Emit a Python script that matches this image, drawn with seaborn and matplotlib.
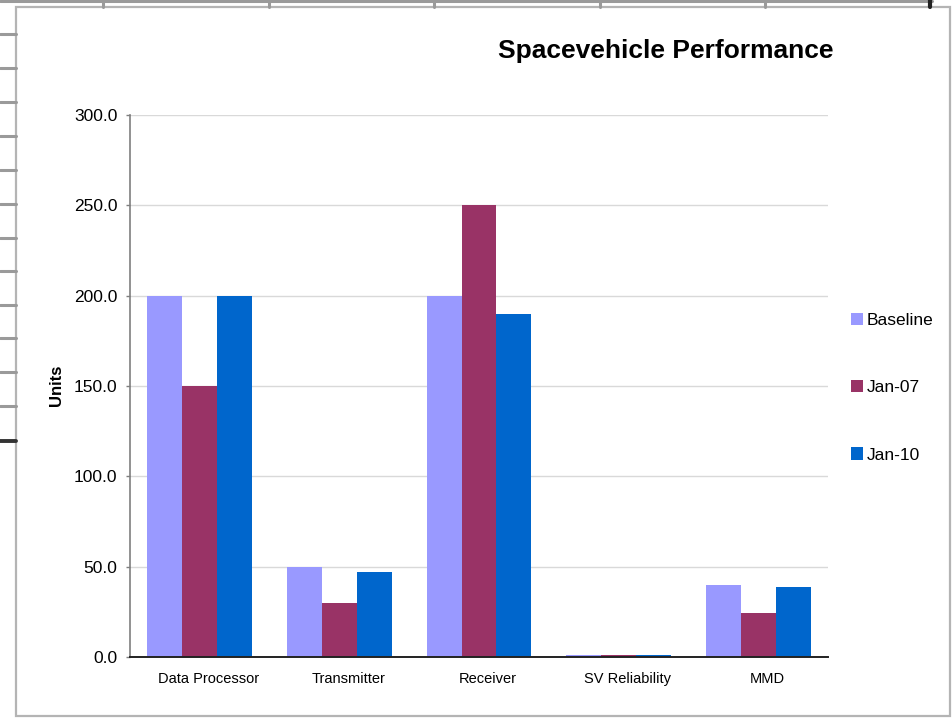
import matplotlib
matplotlib.use("Agg")
import matplotlib.pyplot as plt
from matplotlib.lines import Line2D
from matplotlib.patches import Rectangle, Patch
from matplotlib.ticker import FormatStrFormatter
from matplotlib.transforms import ScaledTranslation
import seaborn as sns
import pandas as pd

# Chart data
categories = ["Data Processor", "Transmitter", "Receiver", "SV Reliability", "MMD"]
series_names = ["Baseline", "Jan-07", "Jan-10"]
baseline = [200.0, 50.0, 200.0, 1.0, 40.0]
jan07 = [150.0, 30.0, 250.0, 1.0, 24.5]
jan10 = [200.0, 47.0, 190.0, 1.0, 39.0]
y_ticks = [0, 50, 100, 150, 200, 250, 300]
colors = ["#9999FF", "#993366", "#0066CC"]

df = pd.DataFrame({
    "category": categories * 3,
    "series": [s for s in series_names for _ in categories],
    "value": baseline + jan07 + jan10,
})

sns.set_style("white")
plt.rcParams["font.family"] = ["Liberation Sans", "DejaVu Sans"]
plt.rcParams["text.color"] = "black"
plt.rcParams["axes.labelcolor"] = "black"

W, H = 952, 720
fig = plt.figure(figsize=(W / 100, H / 100), dpi=100)
fig.patch.set_facecolor("white")


def fx(px):
    return px / W


def fy(py):
    return 1 - py / H


# Worksheet cells peeking out behind the chart box
fig.add_artist(Line2D([0, fx(932)], [fy(0.8), fy(0.8)], color="#9a9a9a", lw=2.2))
for xc in [103, 269, 434, 600, 765]:
    fig.add_artist(Line2D([fx(xc), fx(xc)], [fy(0), fy(7)], color="#9a9a9a", lw=2.2))
fig.add_artist(Line2D([fx(930), fx(930)], [fy(0), fy(7)], color="#222222", lw=3))
for yc in [34, 68, 102, 136, 170, 204, 238, 271, 305, 338, 372, 406]:
    fig.add_artist(Line2D([0, fx(16)], [fy(yc), fy(yc)], color="#9a9a9a", lw=2.2))
fig.add_artist(Line2D([0, fx(16)], [fy(441), fy(441)], color="#333333", lw=2.8))

# Chart box
fig.add_artist(Rectangle((fx(16), fy(716)), fx(950) - fx(16), fy(7) - fy(716),
                         transform=fig.transFigure, facecolor="white",
                         edgecolor="#b4b4b4", lw=1.6, zorder=0.5))

ax = fig.add_axes([fx(130), fy(657), fx(828) - fx(130), fy(115) - fy(657)])
ax.set_facecolor("none")
ax.set_zorder(2)

sns.barplot(data=df, x="category", y="value", hue="series", order=categories,
            hue_order=series_names, palette=colors, width=0.75, gap=0,
            saturation=1, linewidth=0, legend=False, ax=ax, zorder=3)

ax.set_xlim(-0.5, len(categories) - 0.5)
ax.set_ylim(0, 300)
ax.set_yticks(y_ticks)
ax.yaxis.set_major_formatter(FormatStrFormatter("%.1f"))
ax.grid(axis="y", color="#d9d9d9", lw=1)
ax.set_axisbelow(True)
ax.set_xlabel("")
ax.set_ylabel("")
for s in ["top", "right"]:
    ax.spines[s].set_visible(False)
ax.spines["left"].set_color("#7f7f7f")
ax.spines["left"].set_linewidth(1.2)
ax.spines["bottom"].set_color("#222222")
ax.spines["bottom"].set_linewidth(1.4)
ax.spines["bottom"].set_zorder(4)
ax.tick_params(axis="y", direction="out", length=3, width=1, color="#7f7f7f",
               pad=6, labelsize=12.5, labelcolor="black", left=True)
ax.tick_params(axis="x", length=0, pad=11, labelsize=10.5, labelcolor="black")

# Category labels sit a little right of their group centres
shift = ScaledTranslation(9 / 100, 0, fig.dpi_scale_trans)
for lbl in ax.get_xticklabels():
    lbl.set_transform(lbl.get_transform() + shift)

fig.text(fx(666), fy(51), "Spacevehicle Performance", ha="center", va="center",
         fontsize=19, fontweight="bold", color="black")
fig.text(fx(56), fy(385), "Units", ha="center", va="center", rotation=90,
         fontsize=12, fontweight="bold", color="black")

handles = [Patch(facecolor=c, edgecolor="none") for c in colors]
fig.legend(handles, series_names, loc="upper left",
           bbox_to_anchor=(fx(851), fy(313)), bbox_transform=fig.transFigure,
           frameon=False, fontsize=12.5, handlelength=0.7, handleheight=0.7,
           handletextpad=0.2, labelspacing=3.0, borderpad=0, borderaxespad=0)

fig.savefig("out.png", dpi=100, facecolor="white")
